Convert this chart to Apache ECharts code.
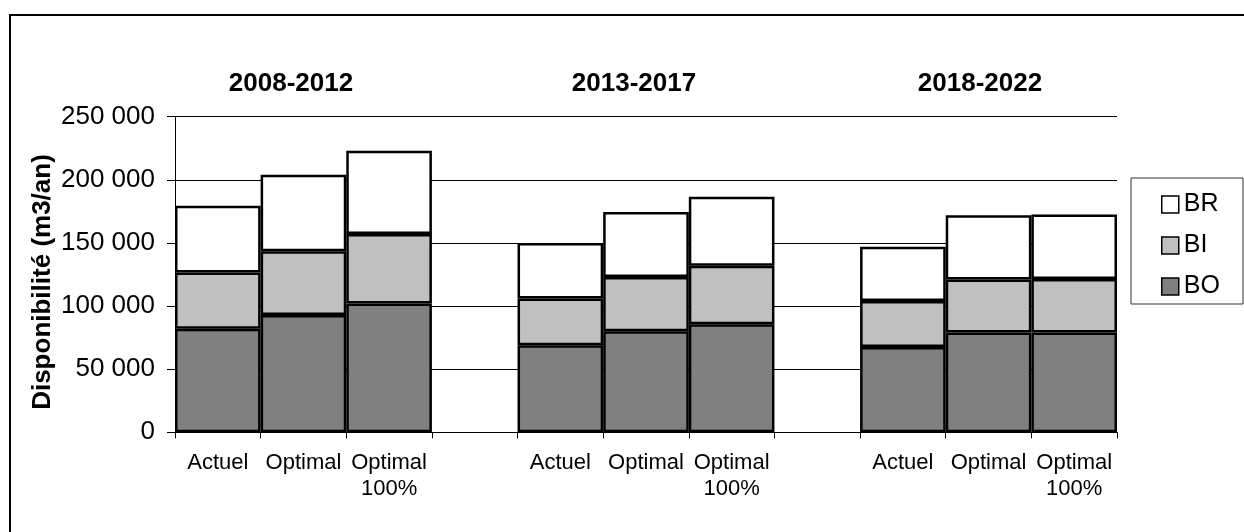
<!DOCTYPE html>
<html>
<head>
<meta charset="utf-8">
<style>
html,body{margin:0;padding:0;background:#fff;}
#chart{width:1244px;height:532px;}
</style>
<script src="https://cdn.jsdelivr.net/npm/echarts@6/dist/echarts.min.js"></script>
</head>
<body>
<div id="chart"></div>
<script>
// categories: 3 groups of 3 bars with one empty slot between groups
var categories = ['Actuel', 'Optimal', 'Optimal\n100%', '', 'Actuel', 'Optimal', 'Optimal\n100%', '', 'Actuel', 'Optimal', 'Optimal\n100%'];
var groupTitles = ['2008-2012', '2013-2017', '2018-2022'];
var seriesNames = ['BO', 'BI', 'BR'];
var BO = [82000, 93000, 102000, null, 69000, 80000, 85500, null, 67500, 79000, 79000];
var BI = [44500, 50500, 55000, null, 37000, 43000, 46500, null, 36500, 42000, 42500];
var BR = [53000, 60500, 66000, null, 44000, 51500, 54500, null, 43000, 51000, 51000];
var yTicks = [0, 50000, 100000, 150000, 200000, 250000];
var yAxisName = 'Disponibilité (m3/an)';

var FONT = '"Liberation Sans", Arial, sans-serif';
var colors = {BO: '#808080', BI: '#C0C0C0', BR: '#FFFFFF'};
var values = {BO: BO, BI: BI, BR: BR};

function fmt(v) {
  return String(v).replace(/\B(?=(\d{3})+(?!\d))/g, ' ');
}

var chart = echarts.init(document.getElementById('chart'), null, {renderer: 'canvas'});

var series = seriesNames.map(function (n) {
  return {
    name: n,
    type: 'bar',
    stack: 'total',
    barWidth: '100%',
    barCategoryGap: '0%',
    data: values[n],
    itemStyle: {color: colors[n], borderColor: '#000', borderWidth: 2.5},
    emphasis: {disabled: true},
    animation: false
  };
});

var titleX = [291, 634, 980];
var graphics = [
  {type: 'rect', shape: {x: 10, y: 15, width: 1300, height: 600},
   style: {fill: null, stroke: '#000', lineWidth: 2}, silent: true, z: 100},
  {type: 'rect', shape: {x: 1131, y: 178, width: 112, height: 126},
   style: {fill: '#fff', stroke: '#333', lineWidth: 1}, silent: true, z: 0},
  {type: 'text', x: 43, y: 282, rotation: Math.PI / 2,
   style: {text: yAxisName, font: 'bold 26px ' + FONT, fill: '#000',
           textAlign: 'center', textVerticalAlign: 'middle'}, silent: true}
];
groupTitles.forEach(function (t, i) {
  graphics.push({type: 'text', x: titleX[i], y: 84,
    style: {text: t, font: 'bold 26px ' + FONT, fill: '#000',
            textAlign: 'center', textVerticalAlign: 'middle'}, silent: true});
});

chart.setOption({
  animation: false,
  backgroundColor: '#fff',
  grid: {left: 175, right: 127, top: 116.7, bottom: 99.7, containLabel: false},
  legend: {
    data: ['BR', 'BI', 'BO'],
    orient: 'vertical',
    left: 1156, top: 187,
    itemWidth: 17, itemHeight: 17,
    itemGap: 16,
    itemTextGap: 4,
    icon: 'rect',
    textStyle: {fontFamily: FONT, fontSize: 25, color: '#000'},
    itemStyle: {borderColor: '#000', borderWidth: 1.5},
    selectedMode: false,
    z: 5
  },
  xAxis: {
    type: 'category',
    data: categories,
    boundaryGap: true,
    axisLine: {show: true, lineStyle: {color: '#000', width: 1}},
    axisTick: {show: true, interval: 0, length: 6, inside: false, lineStyle: {color: '#000'}},
    axisLabel: {interval: 0, color: '#000', fontFamily: FONT, fontSize: 22, margin: 18, lineHeight: 26},
    splitLine: {show: false}
  },
  yAxis: {
    type: 'value',
    min: yTicks[0], max: yTicks[yTicks.length - 1], interval: yTicks[1] - yTicks[0],
    axisLine: {show: true, lineStyle: {color: '#000', width: 1}},
    axisTick: {show: true, length: 8, lineStyle: {color: '#000'}},
    axisLabel: {color: '#000', fontFamily: FONT, fontSize: 26, margin: 20, formatter: fmt},
    splitLine: {show: true, lineStyle: {color: '#000', width: 1}}
  },
  series: series,
  graphic: graphics
});
</script>
</body>
</html>
